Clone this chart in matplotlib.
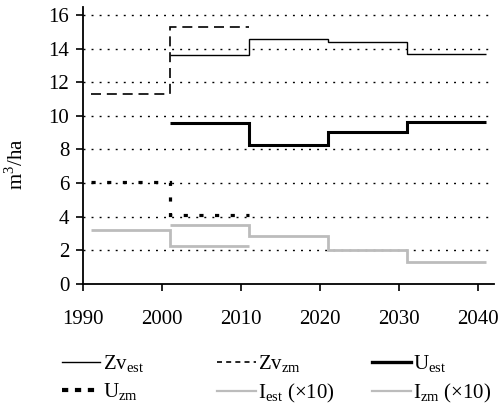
import numpy as np
import matplotlib
matplotlib.use("Agg")
import matplotlib.pyplot as plt
from matplotlib.lines import Line2D

plt.rcParams['font.family'] = ['Liberation Serif', 'DejaVu Serif']
plt.rcParams['mathtext.fontset'] = 'custom'
plt.rcParams['mathtext.rm'] = 'Liberation Serif'

# period edges (years)
edges_zm = [1991, 2001, 2011]
edges_est = [2001, 2011, 2021, 2031, 2041]

# series values (m3/ha)
zv_est = [13.64, 14.54, 14.4, 13.66]
zv_zm = [11.3, 15.3]
u_est = [9.6, 8.28, 9.06, 9.66]
u_zm = [6.07, 4.1]
i_est = [3.48, 2.86, 2.04, 1.31]   # x10
i_zm = [3.18, 2.27]                # x10

xticks = [1990, 2000, 2010, 2020, 2030, 2040]
yticks = [0, 2, 4, 6, 8, 10, 12, 14, 16]

gray = '#bcbcbc'
FS = 15

fig = plt.figure(figsize=(4.98, 4.08), dpi=100)
ax = fig.add_axes([0.167, 0.304, 0.825, 0.68])

for y in yticks[1:]:
    ax.axhline(y, color='black', lw=1.0, ls=(0, (1.4, 4.4)), zorder=0)

ax.stairs(i_est, edges_est, baseline=None, color=gray, lw=2.0)
ax.stairs(i_zm, edges_zm, baseline=None, color=gray, lw=2.0)
ax.stairs(zv_est, edges_est, baseline=None, color='black', lw=1.0)
ax.stairs(zv_zm, edges_zm, baseline=None, color='black', lw=1.2, ls=(0, (6, 3.5)))
ax.stairs(u_est, edges_est, baseline=None, color='black', lw=2.2)
ax.stairs(u_zm, edges_zm, baseline=None, color='black', lw=2.3, ls=(0, (1.3, 3.6)))

ax.set_xlim(1990, 2042)
ax.set_ylim(0, 16.5)
ax.set_xticks(xticks)
ax.set_yticks(yticks)
ax.tick_params(labelsize=FS, direction='out', length=5, width=1.2, colors='black')
ax.tick_params(axis='x', pad=14)
ax.tick_params(axis='y', pad=5)
for s in ['top', 'right']:
    ax.spines[s].set_visible(False)
for s in ['left', 'bottom']:
    ax.spines[s].set_linewidth(1.3)
ax.set_ylabel('m$^3$/ha', fontsize=FS)
ax.yaxis.set_label_coords(-0.135, 0.43)

# legend, one column at a time
columns = [
    ([Line2D([], [], color='black', lw=1.0),
      Line2D([], [], color='black', lw=3.0, ls=(0, (1.5, 1.6)))],
     [r'Zv$_{\mathregular{est}}$', r'U$_{\mathregular{zm}}$'], 0.124),
    ([Line2D([], [], color='black', lw=1.2, ls=(0, (3, 2.5))),
      Line2D([], [], color=gray, lw=1.6)],
     [r'Zv$_{\mathregular{zm}}$', r'I$_{\mathregular{est}}$ (×10)'], 0.436),
    ([Line2D([], [], color='black', lw=2.4),
      Line2D([], [], color=gray, lw=1.6)],
     [r'U$_{\mathregular{est}}$', r'I$_{\mathregular{zm}}$ (×10)'], 0.747),
]
for hs, ls_, x0 in columns:
    fig.legend(hs, ls_, loc='upper left', bbox_to_anchor=(x0, 0.133),
               frameon=False, fontsize=FS, handlelength=1.85, handletextpad=0.12,
               labelspacing=0.3, borderpad=0, borderaxespad=0)

fig.savefig('out.png', dpi=100)
